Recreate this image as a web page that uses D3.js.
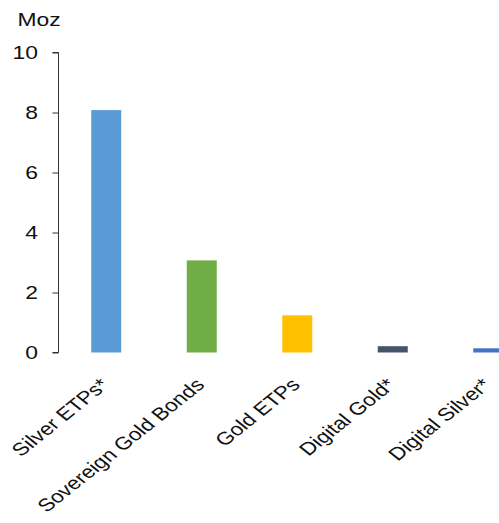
<!DOCTYPE html>
<html><head><meta charset="utf-8">
<script src="https://cdn.jsdelivr.net/npm/d3@7"></script>
<style>body{margin:0;background:#fff;}svg{display:block;font-family:"Liberation Sans",Arial,sans-serif;}</style>
</head><body>
<svg id="c" width="499" height="523"></svg>
<script>
const categories = ["Silver ETPs*","Sovereign Gold Bonds","Gold ETPs","Digital Gold*","Digital Silver*"];
const values = [8.08, 3.07, 1.24, 0.21, 0.14];
const colors = ["#5b9bd5","#70ad47","#ffc000","#44546a","#4472c4"];
const yTicks = [0,2,4,6,8,10];
const unitLabel = "Moz";

const FS = 18, SX = 1.25;
const svg = d3.select("#c");
const x = d3.scaleBand().domain(categories).range([58.5, 536]).paddingInner(0.686).paddingOuter(0.343);
const y = d3.scaleLinear().domain([0,10]).range([352.5, 52.5]);

const yAxis = svg.append("g").attr("transform","translate(58.5,0)")
  .call(d3.axisLeft(y).tickValues(yTicks).tickSize(6).tickPadding(15).tickFormat(d3.format("d")));
yAxis.select(".domain").attr("stroke","#333").attr("d","M-6,52.5H0V352.5H-6");
yAxis.selectAll(".tick line").attr("stroke","#333");
yAxis.selectAll(".tick text").attr("font-size",18.3).attr("fill","#111").attr("font-family","inherit")
  .attr("x", -20.5 / SX).attr("transform", `scale(${SX},1)`);

svg.append("text").attr("transform",`translate(17.5,26) scale(${SX},1)`)
  .attr("font-size",18.3).attr("fill","#111").text(unitLabel);

svg.selectAll("rect.bar").data(categories).enter().append("rect")
  .attr("x", d => x(d)).attr("width", x.bandwidth())
  .attr("y", (d,i) => y(values[i])).attr("height", (d,i) => y(0) - y(values[i]))
  .attr("fill", (d,i) => colors[i]);

svg.selectAll("text.cat").data(categories).enter().append("text")
  .attr("class","cat")
  .attr("text-anchor","end")
  .attr("font-size",FS).attr("fill","#111")
  .attr("transform", d => `translate(${x(d)+x.bandwidth()/2+4},386) scale(${SX},1) rotate(-45)`)
  .text(d => d);
</script>
</body></html>
